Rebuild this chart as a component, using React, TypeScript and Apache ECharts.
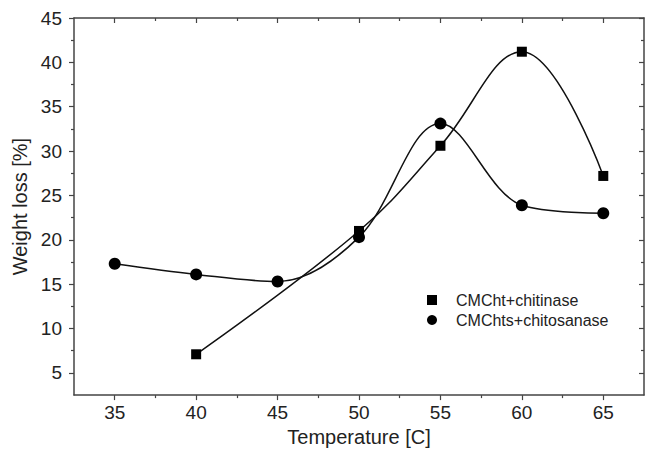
import React, { useEffect, useRef } from "react";
import * as echarts from "echarts";

const temperatures = [35, 40, 45, 50, 55, 60, 65];
const chitinase: (number | null)[] = [null, 7.1, null, 21.0, 30.6, 41.2, 27.2];
const chitosanase = [17.3, 16.1, 15.3, 20.3, 33.1, 23.9, 23.0];

const seriesNames = ["CMCht+chitinase", "CMChts+chitosanase"];

const xMajorTicks = [35, 40, 45, 50, 55, 60, 65];
const xMinorTicks = [37.5, 42.5, 47.5, 52.5, 57.5, 62.5];
const yMajorTicks = [5, 10, 15, 20, 25, 30, 35, 40, 45];
const yMinorTicks = [7.5, 12.5, 17.5, 22.5, 27.5, 32.5, 37.5, 42.5];

const X_MIN = 32.5;
const X_MAX = 67.5;
const Y_MIN = 2.5;
const Y_MAX = 45;

const FONT = "'Liberation Sans', Arial, sans-serif";
const AXIS_COLOR = "#444";

export default function App() {
  const ref = useRef<HTMLDivElement>(null);

  useEffect(() => {
    if (!ref.current) return;
    const chart = echarts.init(ref.current, null, { renderer: "svg" });

    const lineStyle = { color: AXIS_COLOR, width: 1.5 };

    const makeX = (
      position: "top" | "bottom",
      ticks: number[],
      len: number,
      inside: boolean,
      labels: boolean,
      showLine: boolean
    ) => ({
      type: "value",
      position,
      min: X_MIN,
      max: X_MAX,
      axisLine: { show: showLine, onZero: false, lineStyle },
      axisTick: {
        show: true,
        inside,
        length: len,
        customValues: ticks,
        lineStyle: { color: AXIS_COLOR, width: 1.2 },
      },
      axisLabel: labels
        ? {
            show: true,
            customValues: xMajorTicks,
            color: "#222",
            fontSize: 19,
            fontFamily: FONT,
            margin: 8,
          }
        : { show: false },
      splitLine: { show: false },
      ...(labels
        ? {
            name: "Temperature [C]",
            nameLocation: "middle",
            nameGap: 31,
            nameTextStyle: { color: "#222", fontSize: 20, fontFamily: FONT },
          }
        : {}),
    });

    const makeY = (
      position: "left" | "right",
      ticks: number[],
      len: number,
      inside: boolean,
      labels: boolean,
      showLine: boolean
    ) => ({
      type: "value",
      position,
      min: Y_MIN,
      max: Y_MAX,
      axisLine: { show: showLine, onZero: false, lineStyle },
      axisTick: {
        show: true,
        inside,
        length: len,
        customValues: ticks,
        lineStyle: { color: AXIS_COLOR, width: 1.2 },
      },
      axisLabel: labels
        ? {
            show: true,
            customValues: yMajorTicks,
            color: "#222",
            fontSize: 19,
            fontFamily: FONT,
            margin: 12,
          }
        : { show: false },
      splitLine: { show: false },
      ...(labels
        ? {
            name: "Weight loss [%]",
            nameLocation: "middle",
            nameGap: 40,
            nameTextStyle: { color: "#222", fontSize: 20, fontFamily: FONT },
          }
        : {}),
    });

    const toPairs = (vals: (number | null)[]) =>
      temperatures
        .map((t, i) => [t, vals[i]])
        .filter((p) => p[1] !== null);

    chart.setOption({
      animation: false,
      backgroundColor: "#fff",
      grid: { left: 74, right: 2, top: 18, bottom: 54.5, containLabel: false },
      xAxis: [
        makeX("bottom", xMajorTicks, 5, false, true, true),
        makeX("bottom", xMinorTicks, 3, false, false, false),
        makeX("top", xMajorTicks, 5, true, false, true),
        makeX("top", xMinorTicks, 3, true, false, false),
      ],
      yAxis: [
        makeY("left", yMajorTicks, 5, false, true, true),
        makeY("left", yMinorTicks, 3, false, false, false),
        makeY("right", yMajorTicks, 5, true, false, true),
        makeY("right", yMinorTicks, 3, true, false, false),
      ],
      legend: {
        left: 422,
        top: 287,
        orient: "vertical",
        itemWidth: 10,
        itemHeight: 10,
        itemGap: 4,
        data: [
          { name: seriesNames[0], icon: "rect" },
          { name: seriesNames[1], icon: "circle" },
        ],
        textStyle: {
          color: "#222",
          fontSize: 16,
          fontFamily: FONT,
          lineHeight: 16,
          padding: [0, 0, 0, 14],
        },
      },
      series: [
        {
          name: seriesNames[0],
          type: "line",
          data: toPairs(chitinase),
          smooth: 0.4,
          symbol: "rect",
          symbolSize: 10,
          itemStyle: { color: "#000" },
          lineStyle: { color: "#111", width: 1.5 },
        },
        {
          name: seriesNames[1],
          type: "line",
          data: toPairs(chitosanase),
          smooth: 0.35,
          symbol: "circle",
          symbolSize: 12,
          itemStyle: { color: "#000" },
          lineStyle: { color: "#111", width: 1.5 },
        },
      ],
    });

    return () => chart.dispose();
  }, []);

  return (
    <div
      ref={ref}
      style={{ position: "absolute", left: 0, top: 0, width: 646, height: 452 }}
    />
  );
}
